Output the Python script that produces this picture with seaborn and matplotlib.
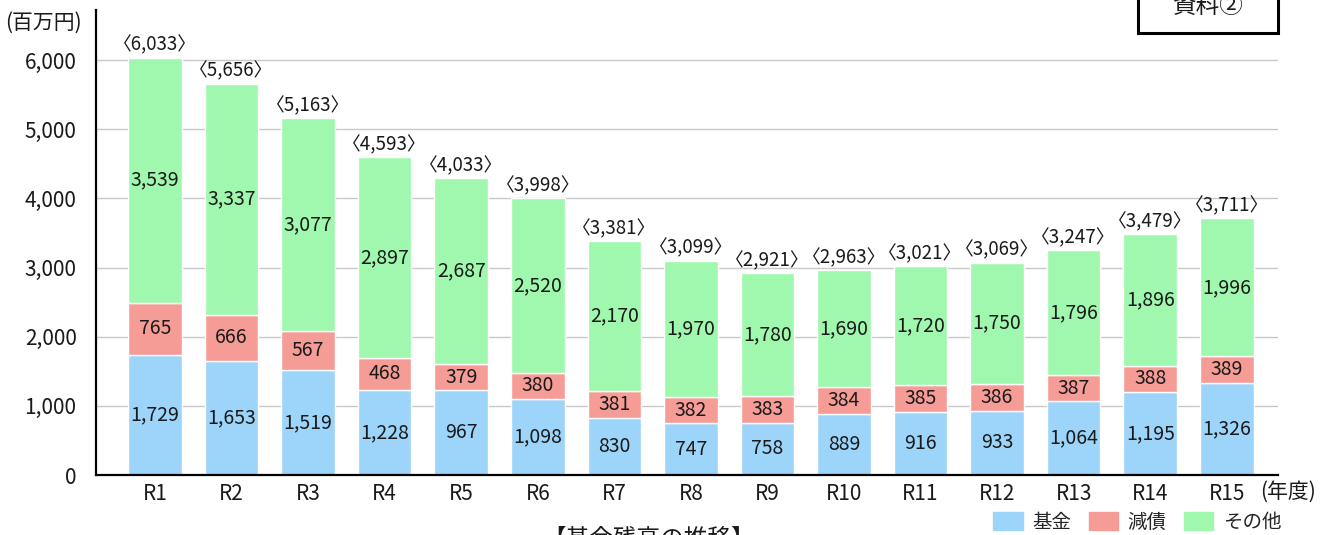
import numpy as np
import pandas as pd
import matplotlib.pyplot as plt
import matplotlib.patches as mpatches
import seaborn as sns

# data
years = ['R1', 'R2', 'R3', 'R4', 'R5', 'R6', 'R7', 'R8', 'R9', 'R10',
         'R11', 'R12', 'R13', 'R14', 'R15']
kikin = [1729, 1653, 1519, 1228, 967, 1098, 830, 747, 758, 889, 916, 933, 1064, 1195, 1326]
gensai = [765, 666, 567, 468, 379, 380, 381, 382, 383, 384, 385, 386, 387, 388, 389]
sonota = [3539, 3337, 3077, 2897, 2687, 2520, 2170, 1970, 1780, 1690, 1720, 1750, 1796, 1896, 1996]
totals = [6033, 5656, 5163, 4593, 4033, 3998, 3381, 3099, 2921, 2963, 3021, 3069, 3247, 3479, 3711]
# the R5 基金 bar is drawn as tall as R4 in the source chart
kikin_drawn = [1729, 1653, 1519, 1228, 1228, 1098, 830, 747, 758, 889, 916, 933, 1064, 1195, 1326]

sns.set_theme(style='white')
plt.rcParams['font.family'] = ['Noto Sans CJK JP', 'DejaVu Sans']

c_kikin = '#9DD4F9'
c_gensai = '#F59C97'
c_sonota = '#9FF8AE'
tc = '#1a1a1a'

df = pd.DataFrame({'年度': years, '基金': kikin_drawn, '減債': gensai, 'その他': sonota})
df['b2'] = df['基金'] + df['減債']

fig = plt.figure(figsize=(13.21, 5.35), dpi=100)
ax = fig.add_axes([0.0727, 0.112, 0.8948, 0.869])

sns.barplot(data=df, x='年度', y='基金', color=c_kikin, width=0.7, ax=ax, saturation=1)
sns.barplot(data=df, x='年度', y='減債', bottom=df['基金'], color=c_gensai, width=0.7, ax=ax, saturation=1)
sns.barplot(data=df, x='年度', y='その他', bottom=df['b2'], color=c_sonota, width=0.7, ax=ax, saturation=1)

fs = 14
for i in range(len(years)):
    b = kikin_drawn[i]
    ax.text(i, b / 2, f'{kikin[i]:,}', ha='center', va='center', fontsize=fs, color=tc)
    ax.text(i, b + gensai[i] / 2, f'{gensai[i]:,}', ha='center', va='center', fontsize=fs, color=tc)
    top = b + gensai[i] + sonota[i]
    ax.text(i, b + gensai[i] + sonota[i] / 2, f'{sonota[i]:,}', ha='center', va='center',
            fontsize=fs, color=tc)
    ax.text(i, top + 30, f'〈{totals[i]:,}〉', ha='center', va='bottom', fontsize=13.5, color=tc)

ax.set_xlim(-0.77, 14.67)
ax.set_ylim(0, 6720)
ax.set_yticks(range(0, 7000, 1000))
ax.set_yticklabels([f'{v:,}' for v in range(0, 7000, 1000)], fontsize=15, color=tc)
ax.set_xticks(range(len(years)))
ax.set_xticklabels(years, fontsize=15, color=tc)
ax.tick_params(axis='y', length=0, pad=14)
ax.tick_params(axis='x', length=0, pad=6)
ax.set_xlabel('')
ax.set_ylabel('')
ax.yaxis.grid(True, color='#C8C8C8', linewidth=1)
ax.set_axisbelow(True)
for s in ['top', 'right']:
    ax.spines[s].set_visible(False)
for s in ['left', 'bottom']:
    ax.spines[s].set_color('black')
    ax.spines[s].set_linewidth(1.6)

fig.text(0.033, 0.958, '(百万円)', ha='center', va='center', fontsize=15, color=tc)
fig.text(0.975, 0.08, '(年度)', ha='center', va='center', fontsize=15, color=tc)
fig.text(0.491, -0.008, '【基金残高の推移】', ha='center', va='center', fontsize=17, color=tc)

# 資料② box at top right, partly above the figure edge
fig.patches.append(mpatches.Rectangle((0.8615, 0.938), 0.106, 0.1, transform=fig.transFigure,
                                      facecolor='white', edgecolor='black', linewidth=2.2))
fig.text(0.9145, 0.988, '資料②', ha='center', va='center', fontsize=17, color=tc)

handles = [mpatches.Patch(color=c_kikin, label='基金'),
           mpatches.Patch(color=c_gensai, label='減債'),
           mpatches.Patch(color=c_sonota, label='その他')]
fig.legend(handles=handles, loc='center right', bbox_to_anchor=(0.976, 0.024), ncol=3,
           frameon=False, fontsize=14, handlelength=1.5, handleheight=1.0,
           handletextpad=0.5, columnspacing=0.9, borderaxespad=0)

plt.savefig('out.png', dpi=100)
plt.close()
